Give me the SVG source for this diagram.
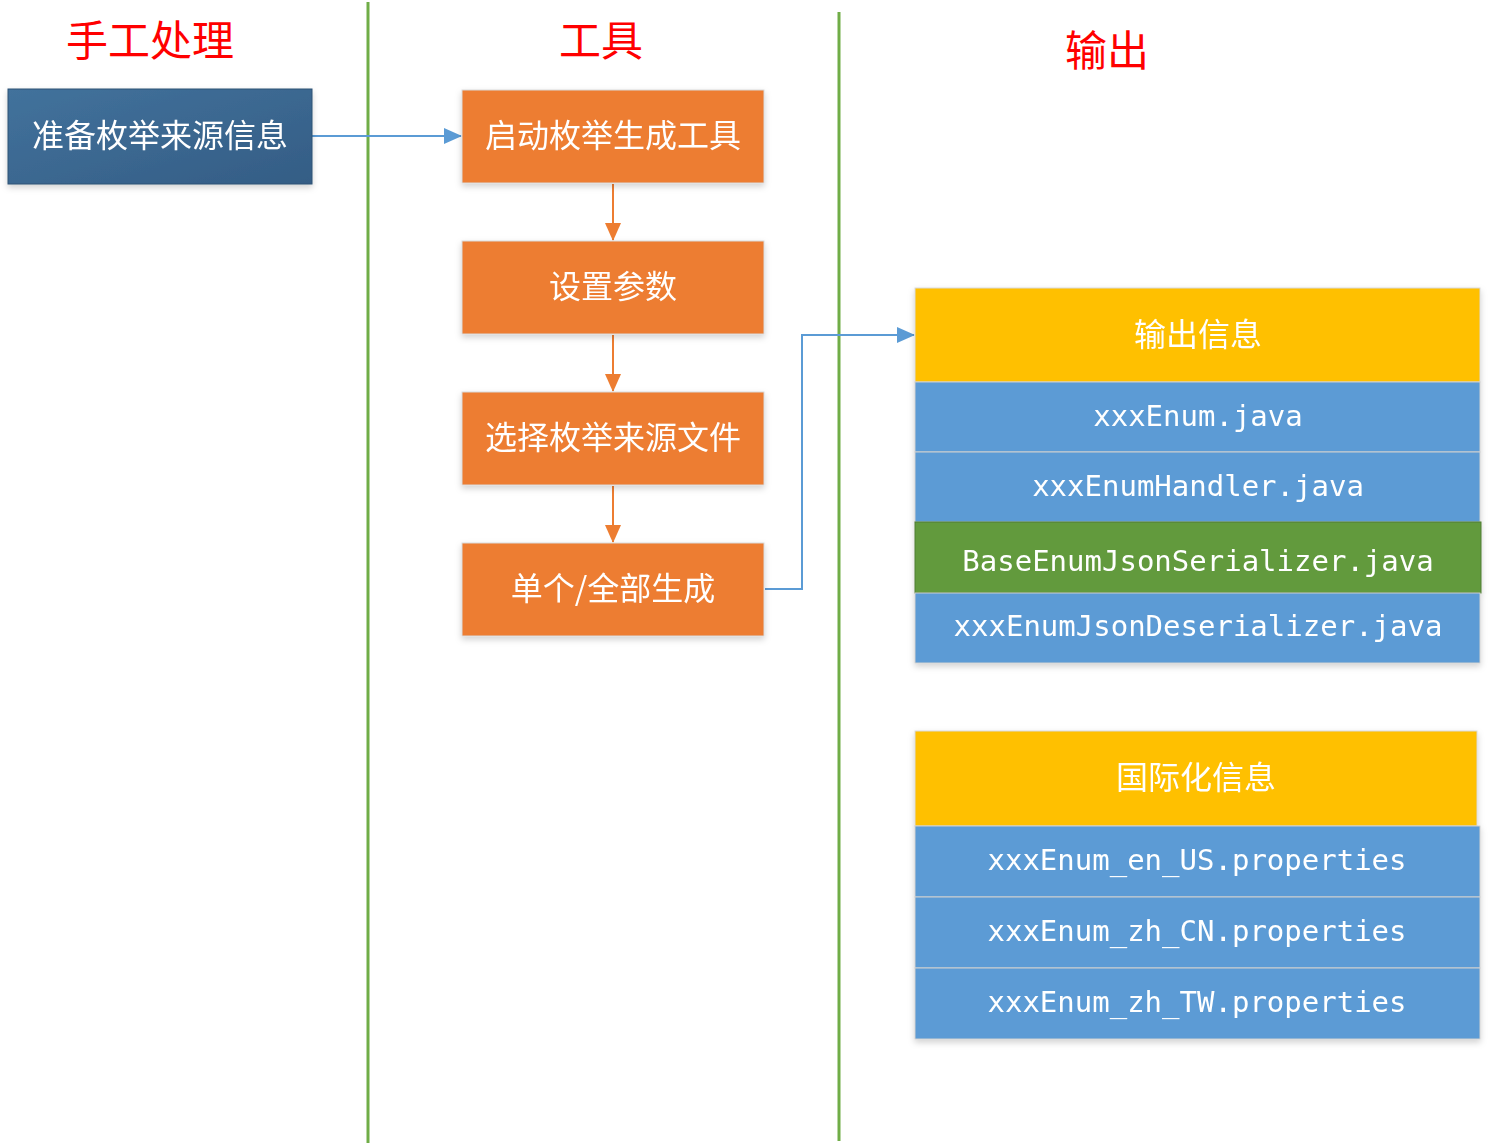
<svg xmlns="http://www.w3.org/2000/svg" width="1492" height="1145" viewBox="0 0 1492 1145">
<style>
.title{font-family:"Noto Sans CJK SC","Noto Sans",sans-serif;font-size:42px;fill:#ff0000;text-anchor:middle}
.cn{font-family:"Noto Sans CJK SC","Noto Sans",sans-serif;font-size:32px;fill:#ffffff;text-anchor:middle;dominant-baseline:central}
.mono{font-family:"DejaVu Sans Mono","Liberation Mono",monospace;font-size:29px;fill:#ffffff;text-anchor:middle;dominant-baseline:central}
.orange{fill:#ed7d31;stroke:#d9d9d9;stroke-width:1}
.blue{fill:#5b9bd5;stroke:#d0d0d0;stroke-width:1}
.yellow{fill:#ffc000;stroke:#d9d9d9;stroke-width:1}
.lane{stroke:#70ad47;stroke-width:3;fill:none}
</style>
<defs>
<linearGradient id="lg" x1="0" y1="0" x2="1" y2="1">
<stop offset="0" stop-color="#42729c"/>
<stop offset="1" stop-color="#345d85"/>
</linearGradient>
<filter id="sh" x="-5%" y="-10%" width="110%" height="130%">
<feDropShadow dx="0" dy="3" stdDeviation="3" flood-color="#000" flood-opacity="0.18"/>
</filter>
<marker id="ab" markerWidth="18" markerHeight="18" refX="17" refY="9" orient="auto" markerUnits="userSpaceOnUse" viewBox="0 0 18 18">
<path d="M0,1 L18,9 L0,17 z" fill="#5b9bd5"/>
</marker>
<marker id="ao2" markerWidth="18" markerHeight="18" refX="17" refY="9" orient="auto" markerUnits="userSpaceOnUse" viewBox="0 0 18 18">
<path d="M0,1 L18,9 L0,17 z" fill="#ed7d31"/>
</marker>
</defs>
<rect width="1492" height="1145" fill="#ffffff"/>
<g id="titles">
<text class="title" x="150" y="56">手工处理</text>
<text class="title" x="601" y="56">工具</text>
<text class="title" x="1107" y="66">输出</text>
</g>
<g id="lanes">
<line class="lane" x1="368" y1="2" x2="368" y2="1143"/>
<line class="lane" x1="839" y1="12" x2="839" y2="1141"/>
</g>
<g id="connectors" fill="none" stroke-width="2">
<line x1="312" y1="136" x2="461" y2="136" stroke="#5b9bd5" marker-end="url(#ab)"/>
<line x1="613" y1="184" x2="613" y2="240" stroke="#ed7d31" marker-end="url(#ao2)"/>
<line x1="613" y1="335" x2="613" y2="391" stroke="#ed7d31" marker-end="url(#ao2)"/>
<line x1="613" y1="486" x2="613" y2="542" stroke="#ed7d31" marker-end="url(#ao2)"/>
<polyline points="765,589 802,589 802,335 914,335" stroke="#5b9bd5" marker-end="url(#ab)"/>
</g>
<g id="n-prepare" filter="url(#sh)">
<rect x="8" y="89" width="304" height="95" fill="url(#lg)" stroke="#2f5275" stroke-width="1"/>
<text class="cn" x="160" y="133">准备枚举来源信息</text>
</g>
<g id="n-start" filter="url(#sh)">
<rect class="orange" x="462" y="90" width="302" height="93"/>
<text class="cn" x="613" y="133">启动枚举生成工具</text>
</g>
<g id="n-params" filter="url(#sh)">
<rect class="orange" x="462" y="241" width="302" height="93"/>
<text class="cn" x="613" y="284">设置参数</text>
</g>
<g id="n-select" filter="url(#sh)">
<rect class="orange" x="462" y="392" width="302" height="93"/>
<text class="cn" x="613" y="435">选择枚举来源文件</text>
</g>
<g id="n-generate" filter="url(#sh)">
<rect class="orange" x="462" y="543" width="302" height="93"/>
<text class="cn" x="613" y="586">单个/全部生成</text>
</g>
<g id="n-output" filter="url(#sh)">
<rect class="yellow" x="915" y="288" width="565" height="94"/>
<text class="cn" x="1198" y="332">输出信息</text>
<rect class="blue" x="915" y="382" width="565" height="70"/>
<text class="mono" x="1198" y="416">xxxEnum.java</text>
<rect class="blue" x="915" y="452" width="565" height="70"/>
<text class="mono" x="1198" y="486">xxxEnumHandler.java</text>
<rect x="915" y="522" width="566" height="71" fill="#629a3e" stroke="#4e7d31" stroke-width="1"/>
<text class="mono" x="1198" y="561">BaseEnumJsonSerializer.java</text>
<rect class="blue" x="915" y="593" width="565" height="70"/>
<text class="mono" x="1198" y="626">xxxEnumJsonDeserializer.java</text>
</g>
<g id="n-i18n" filter="url(#sh)">
<rect class="yellow" x="915" y="731" width="562" height="95"/>
<text class="cn" x="1196" y="775">国际化信息</text>
<rect class="blue" x="915" y="826" width="565" height="71"/>
<text class="mono" x="1197" y="860">xxxEnum_en_US.properties</text>
<rect class="blue" x="915" y="897" width="565" height="71"/>
<text class="mono" x="1197" y="931">xxxEnum_zh_CN.properties</text>
<rect class="blue" x="915" y="968" width="565" height="71"/>
<text class="mono" x="1197" y="1002">xxxEnum_zh_TW.properties</text>
</g>
</svg>
